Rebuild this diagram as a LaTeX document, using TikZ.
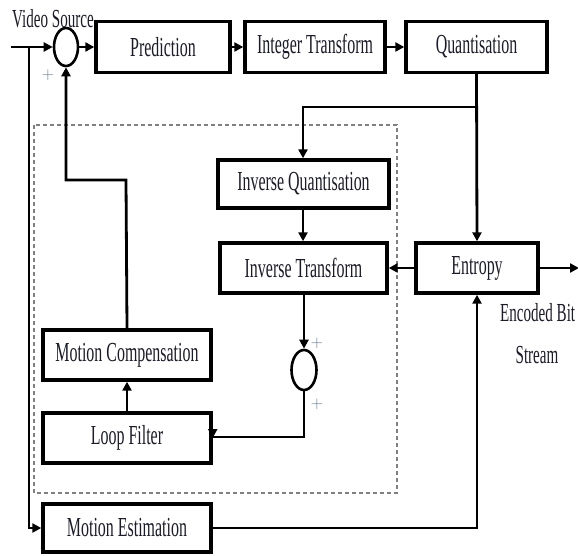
\documentclass[tikz,border=0pt]{standalone}
\usepackage{fontspec}
\usetikzlibrary{arrows.meta,shapes.geometric}
\newfontfamily\labfont[FakeStretch=0.58]{Liberation Serif}
\definecolor{txt}{HTML}{1C1C28}
\definecolor{plusc}{HTML}{6A7A90}
\tikzset{
  blk/.style={draw=black,line width=3.4pt,rectangle,inner sep=0pt,font=\labfont\fontsize{27.5}{29}\selectfont,text=txt},
  summ/.style={draw=black,line width=2.6pt,ellipse,inner sep=0pt},
  conn/.style={line width=2.8pt,-{Triangle[length=9pt,width=9pt]}},
  lbl/.style={font=\labfont\fontsize{26}{28}\selectfont,text=txt,inner sep=0pt},
  pl/.style={font=\fontsize{17}{17}\selectfont,text=plusc,inner sep=0pt}
}
\begin{document}
\begin{tikzpicture}[x=1pt,y=-1pt]
\clip (0,0) rectangle (578,556);
\fill[white] (0,0) rectangle (578,556);
% dashed region
\draw[gray,line width=1.5pt,dash pattern=on 4pt off 3pt] (34,125) rectangle (397,493);
% boxes
\node[blk,minimum width=134pt,minimum height=51pt] (pred) at (163,47) {Prediction};
\node[blk,minimum width=140pt,minimum height=51pt] (int) at (315,47) {Integer Transform};
\node[blk,minimum width=141pt,minimum height=51pt] (quant) at (476.5,47) {Quantisation};
\node[blk,minimum width=171pt,minimum height=48pt] (iq) at (303.5,184) {Inverse Quantisation};
\node[blk,minimum width=167pt,minimum height=50pt] (it) at (303.5,268) {Inverse Transform};
\node[blk,minimum width=122pt,minimum height=50pt] (ent) at (477,268) {Entropy};
\node[blk,minimum width=168pt,minimum height=50pt] (mc) at (127,355) {Motion Compensation};
\node[blk,minimum width=168pt,minimum height=50pt] (lf) at (127,438) {Loop Filter};
\node[blk,minimum width=168pt,minimum height=48pt] (me) at (127,528) {Motion Estimation};
% summing junctions
\node[summ,minimum width=24pt,minimum height=38pt] (s1) at (66,47) {};
\node[summ,minimum width=25pt,minimum height=40pt] (s2) at (304,370) {};
% labels
\node[lbl,anchor=west] (vs) at (12,19) {Video Source};
\node[lbl,anchor=west] (eb) at (500,313) {Encoded Bit};
\node[lbl] (st) at (537,355) {Stream};
\node[pl] (p1) at (48,75) {+};
\node[pl] (p2) at (317,343) {+};
\node[pl] (p3) at (317,404) {+};
% coordinates
\coordinate (in) at (11,47);
\coordinate (inj) at (29,47);
\coordinate (meL) at (29,528);
\coordinate (fb1) at (66,180);
\coordinate (fb2) at (126,180);
\coordinate (qb) at (477,107);
\coordinate (qbl) at (303,107);
\coordinate (out) at (579,268);
\coordinate (s2d) at (304,437);
\coordinate (meR) at (477,528);
% connectors
\draw[conn] (in) -- (s1.west);
\draw[conn] (s1.east) -- (pred.west);
\draw[conn] (pred.east) -- (int.west);
\draw[conn] (int.east) -- (quant.west);
\draw[conn] (inj) -- (meL) -- (me.west);
\draw[conn] (mc.north) -- (fb2) -- (fb1) -- (s1.south);
\draw[conn] (quant.south) -- (ent.north);
\draw[conn] (qb) -- (qbl) -- (qbl |- iq.north);
\draw[conn] (iq.south -| qbl) -- (qbl |- it.north);
\draw[conn] (ent.west) -- (it.east);
\draw[conn] (ent.east) -- (out);
\draw[conn] (it.south -| s2.north) -- (s2.north);
\draw[conn] (s2.south) -- (s2d) -- (s2d -| lf.east) -- (lf.east);
\draw[conn] (lf.north) -- (mc.south);
\draw[conn] (me.east) -- (meR) -- (ent.south);
\end{tikzpicture}
\end{document}
